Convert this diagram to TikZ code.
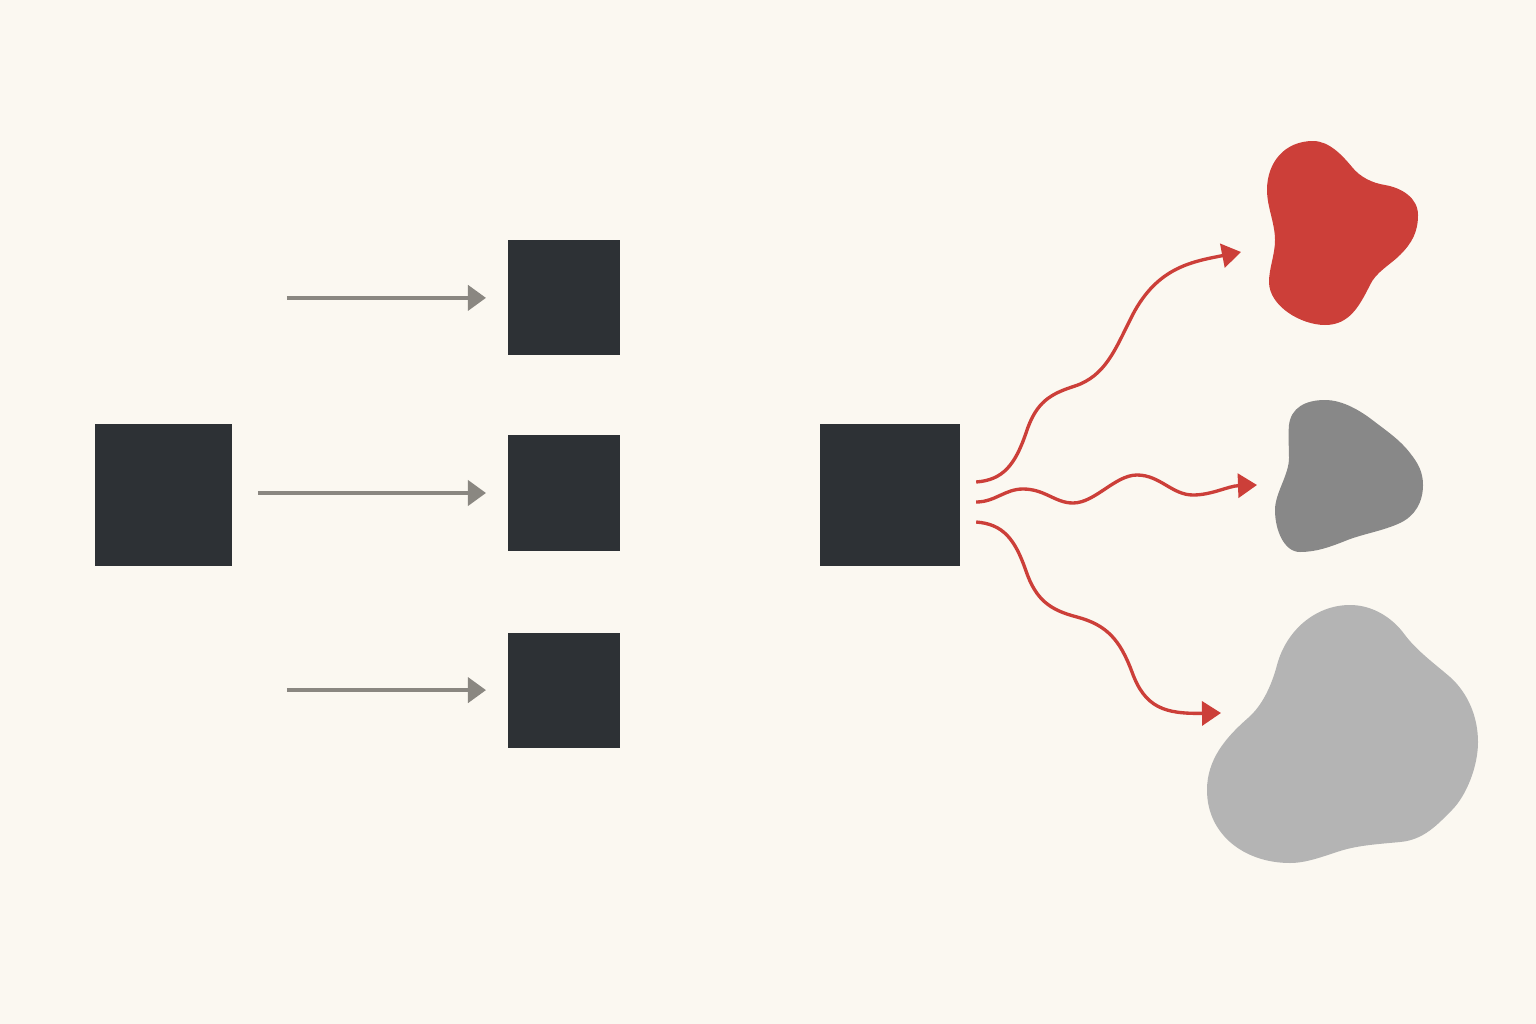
\documentclass[tikz,border=0pt]{standalone}
\usepackage{tikz}
\usetikzlibrary{arrows.meta, positioning}
\definecolor{paper}{HTML}{FBF8F1}
\definecolor{ink}{HTML}{2D3135}
\definecolor{slate}{HTML}{8A8781}
\definecolor{signal}{HTML}{CC3F39}
\definecolor{midgray}{HTML}{888888}
\definecolor{palegray}{HTML}{B4B4B4}
\tikzstyle{square} = [
    rectangle,
    minimum width = 1.12cm,
    minimum height = 1.15cm,
    inner sep = 0pt,
    draw = none,
    fill = ink
]
\tikzstyle{bigsquare} = [
    square,
    minimum width = 1.37cm,
    minimum height = 1.42cm
]
\tikzstyle{arrow} = [line width = 1.1pt, draw = slate, -{Triangle[length = 0.18cm, width = 0.25cm]}]
\tikzstyle{wave} = [line width = 0.95pt, draw = signal, -{Triangle[length = 0.19cm, width = 0.24cm]}]

\begin{document}
\begin{tikzpicture}[x = 0.01cm, y = -0.01cm, node distance = 4cm]
    \fill [paper] (0,0) rectangle (1536,1024);
    \useasboundingbox (0,0) rectangle (1536,1024);

    \node (source) [bigsquare] at (163.5,495) {};

    \node (middle) [square, right of = source, yshift = 0.02cm] {};

    \node (upper) [square, above of = middle, node distance = 2cm, yshift = -0.05cm] {};

    \node (lower) [square, below of = middle, node distance = 2cm, yshift = 0.03cm] {};

    \node
        (hub)
        [bigsquare, minimum width = 1.40cm, right of = middle, xshift = -0.735cm, yshift = -0.02cm]
        {};

    \coordinate (feed upper) at ([xshift = -2.2cm]upper.west);
    \coordinate (feed lower) at ([xshift = -2.2cm]lower.west);

    \draw [arrow, shorten >= 0.21cm] (feed upper) -- (upper.west);

    \draw [arrow, shorten <= 0.25cm, shorten >= 0.21cm]
        (source.east |- middle.west) -- (middle.west);

    \draw [arrow, shorten >= 0.21cm] (feed lower) -- (lower.west);

    \coordinate (out a) at ([xshift = 0.15cm, yshift = 0.13cm]hub.east);
    \coordinate (out b) at ([xshift = 0.15cm, yshift = -0.07cm]hub.east);
    \coordinate (out c) at ([xshift = 0.15cm, yshift = -0.27cm]hub.east);

    \coordinate (tip a) at (1241,252);
    \coordinate (tip b) at (1257,485);
    \coordinate (tip c) at (1221,713);

    \fill [signal]
        (1313,141) .. controls (1329,141) and (1342,155) .. (1352,167)
        .. controls (1360,177) and (1372,183) .. (1385,185)
        .. controls (1402,188) and (1418,198) .. (1418,215)
        .. controls (1418,232) and (1412,243) .. (1400,255)
        .. controls (1390,265) and (1376,272) .. (1370,285)
        .. controls (1359,307) and (1349,325) .. (1325,325)
        .. controls (1301,325) and (1269,306) .. (1269,282)
        .. controls (1269,268) and (1275,255) .. (1275,240)
        .. controls (1275,223) and (1267,207) .. (1267,190)
        .. controls (1267,162) and (1285,141) .. cycle;

    \fill [midgray]
        (1325,400) .. controls (1343,400) and (1361,411) .. (1375,422)
        .. controls (1388,432) and (1400,440) .. (1410,453)
        .. controls (1418,463) and (1423,472) .. (1423,485)
        .. controls (1423,502) and (1415,516) .. (1400,523)
        .. controls (1383,531) and (1362,534) .. (1345,541)
        .. controls (1330,547) and (1316,552) .. (1300,552)
        .. controls (1284,552) and (1275,530) .. (1275,510)
        .. controls (1275,493) and (1289,475) .. (1289,458)
        .. controls (1289,447) and (1288,436) .. (1289,425)
        .. controls (1291,408) and (1305,400) .. cycle;

    \fill [palegray]
        (1350,605) .. controls (1372,605) and (1392,617) .. (1405,635)
        .. controls (1417,651) and (1435,664) .. (1450,677)
        .. controls (1468,693) and (1478,717) .. (1478,742)
        .. controls (1478,767) and (1466,796) .. (1452,810)
        .. controls (1438,824) and (1424,840) .. (1400,842)
        .. controls (1380,844) and (1359,845) .. (1340,851)
        .. controls (1324,856) and (1307,863) .. (1290,863)
        .. controls (1245,863) and (1207,835) .. (1207,790)
        .. controls (1207,760) and (1225,738) .. (1248,718)
        .. controls (1263,705) and (1272,684) .. (1277,665)
        .. controls (1286,631) and (1315,605) .. cycle;

    \draw [wave]
        (out a) .. controls (1003,480) and (1015,465) .. (1026,433)
        .. controls (1036,402) and (1050,394) .. (1075,386)
        .. controls (1105,376) and (1115,350) .. (1130,320)
        .. controls (1155,268) and (1190,262) .. (tip a);

    \draw [wave]
        (out b) .. controls (995,502) and (1005,489) .. (1023,489)
        .. controls (1045,489) and (1055,503) .. (1073,503)
        .. controls (1095,503) and (1115,475) .. (1137,475)
        .. controls (1160,475) and (1172,495) .. (1193,495)
        .. controls (1212,495) and (1228,486) .. (tip b);

    \draw [wave]
        (out c) .. controls (1003,524) and (1015,539) .. (1026,571)
        .. controls (1036,600) and (1050,610) .. (1077,617)
        .. controls (1107,625) and (1120,640) .. (1132,672)
        .. controls (1145,708) and (1165,714) .. (tip c);

\end{tikzpicture}
\end{document}
